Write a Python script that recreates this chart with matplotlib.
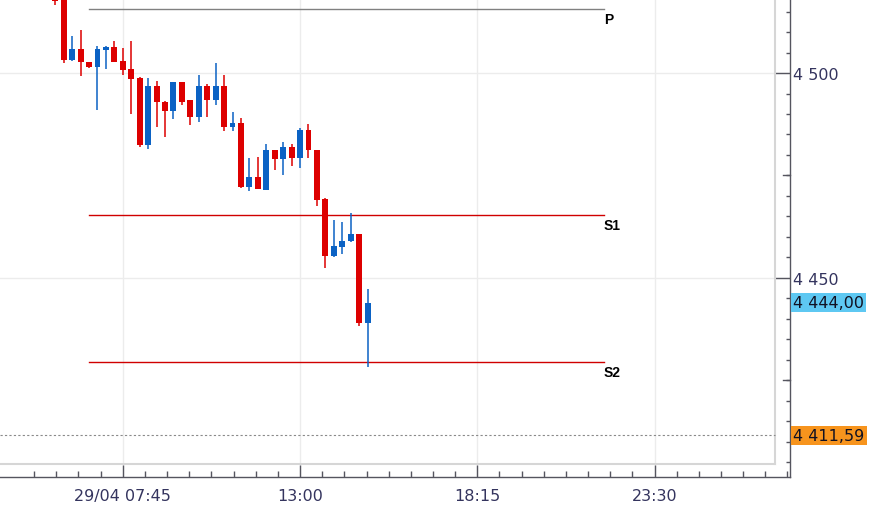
import numpy as np
import matplotlib.pyplot as plt
import matplotlib.transforms as mtransforms
from matplotlib.ticker import FixedLocator, MultipleLocator

# 15 minute candles, first one at 29/04 05:45
opens = [4519.5, 4518.5, 4503.2, 4505.9, 4502.6, 4501.4, 4505.7, 4506.3, 4502.9, 4501.0,
         4498.8, 4482.5, 4496.9, 4493.0, 4490.8, 4497.7, 4493.3, 4489.2, 4496.9, 4493.3,
         4496.9, 4486.9, 4487.8, 4472.3, 4474.6, 4471.5, 4481.2, 4479.0, 4481.9, 4479.3,
         4486.1, 4481.2, 4469.3, 4455.3, 4457.6, 4459.0, 4460.7, 4439.0]
highs = [4520.5, 4519.0, 4509.1, 4510.5, 4502.7, 4506.7, 4506.7, 4507.9, 4506.0, 4507.9,
         4499.0, 4498.8, 4498.0, 4493.1, 4497.8, 4497.8, 4493.4, 4499.6, 4497.2, 4502.4,
         4499.6, 4490.6, 4489.0, 4479.3, 4479.4, 4482.7, 4481.3, 4483.2, 4482.7, 4486.6,
         4487.6, 4481.3, 4469.5, 4464.2, 4463.7, 4465.8, 4460.8, 4447.3]
lows = [4516.6, 4502.4, 4503.0, 4499.3, 4501.3, 4491.0, 4501.0, 4502.7, 4499.5, 4490.0,
        4482.0, 4481.5, 4486.9, 4484.5, 4488.8, 4492.2, 4487.4, 4488.1, 4489.3, 4492.2,
        4485.9, 4485.9, 4471.9, 4471.2, 4471.6, 4471.4, 4476.3, 4475.0, 4477.4, 4476.8,
        4479.3, 4467.6, 4452.4, 4455.2, 4455.9, 4458.9, 4438.2, 4428.2]
closes = [4517.6, 4503.2, 4505.9, 4502.6, 4501.4, 4505.9, 4506.3, 4502.8, 4500.8, 4498.5,
          4482.5, 4496.9, 4492.9, 4490.8, 4497.7, 4493.0, 4489.2, 4496.9, 4493.3, 4496.9,
          4486.9, 4487.8, 4472.3, 4474.6, 4471.7, 4481.2, 4479.0, 4481.9, 4479.3, 4486.1,
          4481.3, 4469.1, 4455.3, 4457.9, 4459.0, 4460.7, 4439.0, 4444.0]

tick_pos = [8, 29, 50, 71]
tick_labels = ['29/04 07:45', '13:00', '18:15', '23:30']

pivot_names = ['P', 'S1', 'S2']
pivot_values = [4515.6, 4465.4, 4429.5]
pivot_colors = ['#808080', '#d00000', '#d00000']
pivot_start = 4
pivot_end = 65

last_price = 4444.00
ref_price = 4411.59

red = '#dd0000'
blue = '#0b62c4'
label_color = '#34345e'
axis_color = '#55555f'

fig = plt.figure(figsize=(8.71, 5.06), dpi=100)
ax = fig.add_axes([0, 28 / 506, 790 / 871, 478 / 506])

x = np.arange(len(opens))
o = np.array(opens)
c = np.array(closes)
colors = [blue if cc >= oo else red for oo, cc in zip(o, c)]

ax.vlines(x, lows, highs, colors=colors, lw=1.1, zorder=3)
bottom = np.minimum(o, c)
height = np.maximum(np.abs(c - o), 0.3)
ax.bar(x, height, bottom=bottom, width=0.7, color=colors, lw=0, zorder=4)

# pivot lines
for name, val, col in zip(pivot_names, pivot_values, pivot_colors):
    ax.plot([pivot_start, pivot_end], [val, val], color=col, lw=1, zorder=2)
    ax.annotate(name, (pivot_end, val), xytext=(0, -2), textcoords='offset points',
                ha='left', va='top', fontsize=10, fontweight='bold',
                family='Liberation Sans', color='black')

ax.set_xlim(-6.55, 87.05)
ax.set_ylim(4401.46, 4518.05)

# reference dotted line
ax.axhline(ref_price, xmin=0, xmax=775 / 790, color='#8a8a8a', lw=0.8,
           linestyle=(0, (2, 2)), zorder=2)

# inner frame
ax.plot([775 / 790, 775 / 790], [13 / 478, 1], transform=ax.transAxes,
        color='#d6d6d6', lw=1.5, clip_on=False, zorder=1)
ax.plot([0, 775 / 790], [13 / 478, 13 / 478], transform=ax.transAxes,
        color='#d6d6d6', lw=1.5, clip_on=False, zorder=1)

# y axis on the right
ax.yaxis.tick_right()
yt = [4450, 4500]
ax.set_yticks(yt)
ax.set_yticklabels([f'{v:,.0f}'.replace(',', ' ') for v in yt])
ax.yaxis.set_minor_locator(MultipleLocator(5))
ax.tick_params(axis='y', which='major', direction='in', length=10.8, width=1,
               color=axis_color, pad=2, labelsize=11.5, labelcolor=label_color)
ax.tick_params(axis='y', which='minor', direction='in', length=3, width=1,
               color=axis_color)
blend = mtransforms.blended_transform_factory(ax.transAxes, ax.transData)
for v in [4425, 4475]:
    ax.plot([1 - 7 / 790, 1], [v, v], transform=blend, color=axis_color, lw=1,
            clip_on=False)

# x axis
ax.set_xticks(tick_pos)
ax.set_xticklabels(tick_labels)
minor = [8 + 2.625 * k for k in range(-5, 31)]
minor = [m for m in minor if m not in tick_pos and -4 < m < 87]
ax.xaxis.set_minor_locator(FixedLocator(minor))
ax.tick_params(axis='x', which='major', direction='in', length=8.6, width=1,
               color=axis_color, pad=8, labelsize=11.5, labelcolor=label_color)
ax.tick_params(axis='x', which='minor', direction='in', length=4.3, width=1,
               color=axis_color)

ax.grid(True, which='major', color='#ececec', lw=1)
ax.set_axisbelow(True)

for s in ['top', 'left']:
    ax.spines[s].set_visible(False)
for s in ['right', 'bottom']:
    ax.spines[s].set_color(axis_color)
    ax.spines[s].set_linewidth(1)

# price boxes on the right
ax.text(1 + 3 / 790, last_price, '4 444,00', transform=blend, ha='left', va='center',
        fontsize=11.5, color='#111122', clip_on=False,
        bbox=dict(boxstyle='square,pad=0.15', fc='#5ec8f2', ec='none'))
ax.text(1 + 3 / 790, ref_price, '4 411,59', transform=blend, ha='left', va='center',
        fontsize=11.5, color='#111122', clip_on=False,
        bbox=dict(boxstyle='square,pad=0.15', fc='#f7941d', ec='none'))

fig.savefig('out.png', dpi=100)
